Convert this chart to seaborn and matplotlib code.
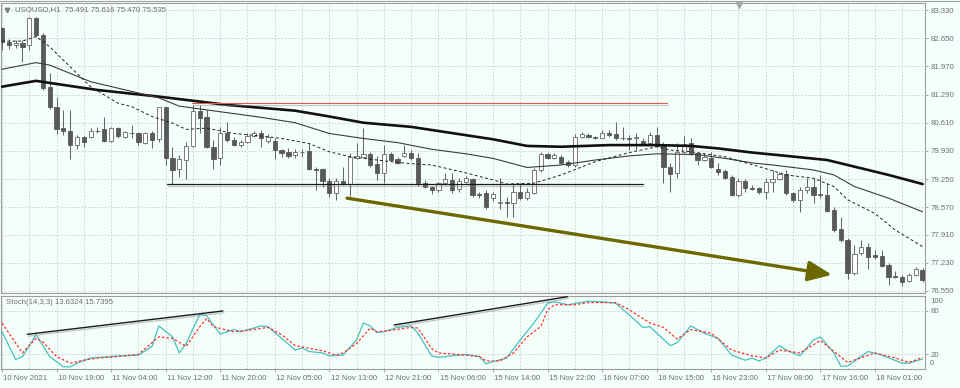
import matplotlib
matplotlib.use("Agg")
import matplotlib.pyplot as plt
import matplotlib.patheffects as pe
from matplotlib.lines import Line2D
from matplotlib.transforms import ScaledTranslation
import numpy as np
import pandas as pd
import seaborn as sns

# ---------------- data ----------------
OPEN = [82.90, 82.56, 82.49, 82.54, 82.49, 83.14, 82.73, 81.46, 81.00, 80.48,
        80.42, 80.07, 80.26, 80.26, 80.42, 80.45, 80.18, 80.48, 80.27, 80.37,
        80.35, 80.13, 80.37, 80.21, 80.98, 79.75, 79.49, 79.71, 80.05, 80.90,
        80.75, 80.03, 79.75, 80.37, 80.20, 80.07, 80.15, 80.29, 80.37, 80.18,
        80.18, 79.95, 79.91, 79.83, 79.91, 79.93, 79.49, 79.49, 79.21, 78.92,
        79.21, 79.13, 79.75, 79.79, 79.85, 79.61, 79.39, 79.85, 79.73, 79.81,
        79.89, 79.75, 79.16, 79.05, 78.99, 79.15, 79.23, 79.00, 79.19, 79.24,
        78.90, 78.91, 78.79, 78.68, 78.70, 78.67, 78.95, 78.79, 78.92, 79.47,
        79.85, 79.75, 79.79, 79.67, 79.59, 80.26, 80.31, 80.27, 80.25, 80.37,
        80.34, 80.24, 80.23, 80.23, 80.18, 80.11, 80.31, 80.07, 79.55, 79.39,
        79.91, 80.11, 79.87, 79.71, 79.75, 79.49, 79.45, 79.29, 78.87, 79.21,
        79.03, 79.03, 78.95, 79.19, 79.24, 79.37, 78.92, 78.75, 78.99, 79.07,
        78.88, 78.87, 78.50, 78.04, 77.78, 76.98, 77.46, 77.62, 77.42, 77.39,
        77.18, 76.90, 76.89, 76.79, 76.94, 77.06]
HIGH = [82.92, 82.62, 82.61, 82.61, 83.15, 83.15, 82.77, 81.80, 81.22, 80.92,
        80.92, 80.31, 80.29, 80.48, 80.51, 80.75, 80.50, 80.51, 80.42, 80.55,
        80.39, 80.39, 80.41, 81.00, 81.00, 80.02, 79.83, 80.15, 81.04, 81.04,
        80.92, 80.19, 80.51, 80.63, 80.26, 80.19, 80.35, 80.42, 80.43, 80.34,
        80.24, 79.97, 79.99, 79.97, 79.97, 80.11, 79.55, 79.51, 79.27, 79.27,
        79.55, 79.87, 80.13, 80.48, 79.91, 79.81, 80.07, 79.91, 79.79, 80.07,
        79.95, 79.87, 79.23, 79.08, 79.19, 79.39, 79.39, 79.27, 79.32, 79.27,
        78.94, 78.99, 78.94, 79.27, 78.82, 79.15, 79.15, 79.03, 79.51, 79.91,
        79.89, 79.89, 79.83, 79.71, 80.34, 80.39, 80.37, 80.30, 80.43, 80.43,
        80.63, 80.50, 80.31, 80.35, 80.23, 80.39, 80.50, 80.15, 79.63, 80.11,
        80.29, 80.23, 79.91, 79.89, 79.91, 79.64, 79.49, 79.35, 79.27, 79.24,
        79.11, 79.07, 79.27, 79.47, 79.43, 79.47, 78.95, 79.07, 79.27, 79.27,
        79.35, 79.15, 78.58, 78.34, 77.82, 77.66, 77.78, 77.70, 77.54, 77.55,
        77.22, 77.04, 76.94, 76.98, 77.12, 77.10]
LOW = [82.36, 82.38, 82.41, 82.08, 82.36, 82.68, 81.40, 80.94, 80.34, 80.31,
       79.73, 79.97, 80.03, 80.23, 80.36, 80.15, 80.15, 80.23, 80.25, 80.24,
       80.07, 80.10, 79.99, 80.15, 79.59, 79.13, 79.31, 79.24, 80.02, 80.37,
       79.99, 79.49, 79.59, 80.15, 80.04, 80.03, 80.13, 80.26, 80.03, 80.13,
       79.73, 79.78, 79.75, 79.75, 79.79, 79.47, 78.99, 79.07, 78.82, 78.75,
       79.11, 78.84, 79.73, 79.75, 79.55, 79.23, 79.16, 79.69, 79.61, 79.79,
       79.71, 79.08, 79.03, 78.89, 78.95, 79.11, 78.92, 78.95, 79.15, 78.81,
       78.79, 78.52, 78.73, 78.52, 78.34, 78.34, 78.75, 78.75, 78.89, 79.43,
       79.73, 79.73, 79.61, 79.55, 79.55, 80.23, 80.23, 80.22, 80.23, 80.26,
       80.19, 80.19, 79.95, 79.95, 80.07, 80.10, 80.03, 79.15, 78.95, 79.27,
       79.87, 79.83, 79.59, 79.69, 79.51, 79.35, 79.24, 78.84, 78.82, 78.93,
       78.99, 78.89, 78.77, 78.95, 79.23, 78.87, 78.70, 78.46, 78.91, 78.67,
       78.79, 78.46, 77.98, 77.74, 76.83, 76.94, 77.42, 77.07, 77.31, 77.12,
       76.69, 76.86, 76.67, 76.77, 76.91, 76.77]
CLOSE = [82.56, 82.49, 82.54, 82.44, 83.13, 82.73, 81.44, 80.98, 80.45, 80.42,
         80.07, 80.27, 80.15, 80.41, 80.41, 80.18, 80.48, 80.29, 80.39, 80.36,
         80.15, 80.36, 80.19, 80.98, 79.75, 79.47, 79.73, 80.05, 80.90, 80.72,
         80.03, 79.73, 80.37, 80.19, 80.07, 80.15, 80.29, 80.37, 80.23, 80.27,
         79.95, 79.89, 79.81, 79.91, 79.90, 79.49, 79.48, 79.21, 78.92, 79.21,
         79.13, 79.79, 79.81, 79.85, 79.59, 79.39, 79.85, 79.71, 79.65, 79.89,
         79.75, 79.15, 79.07, 78.99, 79.16, 79.24, 78.99, 79.21, 79.27, 78.87,
         78.87, 78.58, 78.89, 78.69, 78.67, 78.95, 78.79, 78.95, 79.47, 79.85,
         79.75, 79.82, 79.65, 79.59, 80.27, 80.34, 80.26, 80.23, 80.37, 80.31,
         80.23, 80.23, 80.22, 80.27, 80.10, 80.31, 80.05, 79.55, 79.37, 79.91,
         80.10, 79.87, 79.71, 79.79, 79.53, 79.43, 79.27, 78.87, 79.21, 79.03,
         79.02, 78.95, 79.19, 79.24, 79.37, 78.91, 78.75, 78.99, 79.07, 78.87,
         78.87, 78.49, 78.02, 77.78, 76.98, 77.44, 77.62, 77.38, 77.36, 77.15,
         76.89, 76.89, 76.77, 76.94, 77.07, 76.82]

SLOW_BARS = [0, 5, 7, 14, 23, 30, 33, 43, 48, 53, 60, 68, 72, 77, 82, 89, 96, 101,
             105, 110, 115, 121, 124, 130, 135]
SLOW_MA = [81.48, 81.62, 81.57, 81.40, 81.24, 81.10, 81.04, 80.90, 80.76, 80.61,
           80.51, 80.31, 80.21, 80.05, 80.03, 80.07, 80.07, 80.05, 79.99, 79.89,
           79.81, 79.71, 79.59, 79.35, 79.13]
MID_BARS = [0, 5, 7, 13, 23, 26, 30, 34, 38, 43, 48, 53, 58, 63, 68, 72, 77, 82, 87,
            92, 96, 102, 106, 110, 113, 119, 122, 125, 130, 135]
MID_MA = [81.90, 82.06, 82.00, 81.60, 81.21, 81.01, 80.92, 80.83, 80.74, 80.61,
          80.35, 80.23, 80.13, 79.97, 79.86, 79.75, 79.53, 79.59, 79.71, 79.81,
          79.86, 79.84, 79.75, 79.64, 79.59, 79.47, 79.35, 79.07, 78.79, 78.46]
FAST_BARS = [0, 3, 5, 7, 10, 13, 17, 19, 22, 25, 27, 30, 34, 38, 41, 45, 48, 51, 53,
             58, 61, 63, 68, 72, 74, 78, 82, 87, 92, 96, 98, 101, 106, 111, 115, 119,
             122, 124, 128, 131, 135]
FAST_MA = [82.58, 82.58, 82.69, 82.44, 81.96, 81.48, 81.08, 81.00, 80.76, 80.60,
           80.45, 80.48, 80.35, 80.29, 80.23, 80.11, 79.91, 79.79, 79.75, 79.65,
           79.61, 79.59, 79.40, 79.23, 79.13, 79.15, 79.35, 79.67, 79.89, 80.03,
           79.95, 79.91, 79.79, 79.55, 79.35, 79.27, 79.07, 78.75, 78.42, 78.02,
           77.62]

K_BARS = [0, 2, 3, 5, 7, 9, 10, 11, 13, 16, 17, 20, 22, 23, 25, 26, 27, 29, 30, 32,
          34, 35, 38, 39, 41, 43, 44, 45, 47, 48, 50, 52, 53, 54, 55, 56, 58, 60, 61,
          63, 64, 68, 70, 71, 72, 74, 76, 78, 80, 81, 83, 86, 88, 90, 92, 94, 95, 98,
          99, 101, 103, 105, 107, 109, 110, 111, 112, 114, 115, 117, 119, 120, 122,
          123, 124, 127, 129, 132, 133, 135]
K_VALS = [51, 13, 17, 47, 17, 3, 3, 8, 15, 17, 18, 19, 31, 59, 44, 22, 35, 75, 73,
          48, 54, 51, 59, 58, 42, 26, 29, 24, 22, 18, 19, 40, 63, 59, 50, 51, 57, 59,
          49, 18, 16, 20, 17, 7, 10, 15, 40, 63, 90, 92, 88, 93, 92, 90, 74, 57, 58,
          32, 36, 59, 49, 42, 19, 12, 15, 11, 15, 32, 26, 18, 40, 44, 22, 4, 4, 24,
          19, 8, 8, 13.6324]
D_BARS = [0, 3, 5, 6, 8, 10, 12, 14, 17, 20, 23, 25, 27, 29, 30, 31, 34, 36, 39, 41,
          43, 47, 49, 50, 52, 54, 55, 57, 60, 61, 63, 64, 68, 70, 71, 73, 75, 77, 79,
          80, 81, 84, 86, 90, 92, 95, 97, 99, 101, 104, 107, 110, 112, 114, 117, 120,
          124, 128, 131, 133, 135]
D_VALS = [63, 22, 42, 37, 17, 8, 12, 15, 17, 20, 44, 42, 31, 58, 69, 58, 51, 53, 57,
          47, 32, 25, 19, 22, 35, 56, 51, 53, 57, 56, 28, 22, 19, 17, 11, 11, 22, 44,
          58, 81, 88, 88, 91, 91, 81, 63, 57, 41, 54, 49, 26, 18, 15, 26, 22, 39, 9,
          22, 15, 9, 15.7395]

PRICE_TICKS = ["83.330", "82.650", "81.970", "81.290", "80.610", "79.930",
               "79.250", "78.570", "77.910", "77.230", "76.550"]
TIME_LABELS = ["10 Nov 2021", "10 Nov 19:00", "11 Nov 04:00", "11 Nov 12:00",
               "11 Nov 20:00", "12 Nov 05:00", "12 Nov 13:00", "12 Nov 21:00",
               "15 Nov 06:00", "15 Nov 14:00", "15 Nov 22:00", "16 Nov 07:00",
               "16 Nov 15:00", "16 Nov 23:00", "17 Nov 08:00", "17 Nov 16:00",
               "18 Nov 01:00"]
HEADER = "USOUSD,H1  75.491 75.616 75.470 75.535"
STOCH_HEADER = "Stoch(14,3,3) 13.6324 15.7395"

# drawn objects (bar index, price / value)
RESIST = ([27.9, 97.5], [81.08, 81.08])
SUPPORT = ([24.2, 94.0], [79.12, 79.12])
ARROW = ((50.6, 78.79), (121.7, 76.94))
STOCH_LINE1 = ([3.7, 32.4], [47.5, 79.5])
STOCH_LINE2 = ([57.5, 82.9], [60.3, 99.0])

# ---------------- style ----------------
sns.set_theme(style="white")
plt.rcParams["font.family"] = ["Liberation Sans", "DejaVu Sans"]

BG = "#f5fffa"
TXT = "#6e6e6e"
GRID = "#c6cacd"
SPINE = "#9c9c9c"
W, H = 960, 388

fig = plt.figure(figsize=(9.6, 3.88), dpi=100, facecolor=BG)


def fy(py):
    return 1 - py / H


ax = fig.add_axes([1 / W, fy(293), 924 / W, 290 / H], facecolor=BG)
axs = fig.add_axes([1 / W, fy(369), 924 / W, 73 / H], facecolor=BG, sharex=ax)

df = pd.DataFrame({"open": OPEN, "high": HIGH, "low": LOW, "close": CLOSE})
df["bar"] = np.arange(len(df))
bull = df["close"] >= df["open"]

# candles
ax.vlines(df["bar"], df["low"], df["high"], color="#666666", lw=0.75, zorder=2)
body_lo = np.minimum(df["open"], df["close"])
body_h = np.maximum((df["close"] - df["open"]).abs(), 0.012)
ax.bar(df["bar"][bull], body_h[bull], bottom=body_lo[bull], width=0.62,
       color="white", edgecolor="#666666", linewidth=0.6, zorder=3)
ax.bar(df["bar"][~bull], body_h[~bull], bottom=body_lo[~bull], width=0.62,
       color="#595959", edgecolor="#595959", linewidth=0.6, zorder=3)

# moving averages
sns.lineplot(x=SLOW_BARS, y=SLOW_MA, ax=ax, color="#111111", lw=1.9, zorder=4)
sns.lineplot(x=MID_BARS, y=MID_MA, ax=ax, color="#3c3c3c", lw=0.8, zorder=4)
sns.lineplot(x=FAST_BARS, y=FAST_MA, ax=ax, color="#222222", lw=0.7,
             linestyle=(0, (3, 2.5)), zorder=4)

shadow = [pe.SimpleLineShadow(offset=(0.8, -1.3), shadow_color="#888888", alpha=0.45),
          pe.Normal()]
ax.plot(*RESIST, color="#e05a50", lw=0.8, zorder=5, path_effects=shadow)
ax.plot(*SUPPORT, color="#1a1a1a", lw=0.9, zorder=5, path_effects=shadow)
ax.annotate("", xy=ARROW[1], xytext=ARROW[0],
            arrowprops=dict(arrowstyle="-|>,head_length=1.45,head_width=0.62",
                            color="#6b6800", lw=2.4, mutation_scale=10,
                            shrinkA=0, shrinkB=0), zorder=6)

# axes limits & grid
ax.set_xlim(-0.147, 135.35)
ax.set_ylim(76.501, 83.499)
price_vals = [float(p) for p in PRICE_TICKS]
ax.yaxis.tick_right()
ax.set_yticks(price_vals)
ax.set_yticklabels(PRICE_TICKS)
ax.tick_params(axis="y", right=True, length=2.5, width=0.6, color=SPINE, pad=1.5,
               labelsize=5.6, labelcolor=TXT)
label_bars = list(range(0, len(TIME_LABELS) * 8, 8))
grid_bars = list(range(0, 136, 4))
for a in (ax, axs):
    a.set_xticks(grid_bars, minor=True)
    a.grid(True, which="minor", axis="x", color=GRID, lw=0.6, linestyle=(0, (2, 2)))
    a.grid(True, which="major", axis="x", color=GRID, lw=0.6, linestyle=(0, (2, 2)))
    a.grid(True, which="major", axis="y", color=GRID, lw=0.6, linestyle=(0, (2, 2)))
    a.set_axisbelow(True)
    for s in a.spines.values():
        s.set_color(SPINE)
        s.set_linewidth(0.8)
    a.set_xlabel("")
    a.set_ylabel("")
ax.tick_params(axis="x", which="both", bottom=False, labelbottom=False)

# stochastic
sns.lineplot(x=K_BARS, y=K_VALS, ax=axs, color="#45c2bf", lw=0.9, zorder=3)
sns.lineplot(x=D_BARS, y=D_VALS, ax=axs, color="#ff2d2d", lw=0.9,
             linestyle=(0, (2, 1.6)), zorder=3)
axs.plot(*STOCH_LINE1, color="#1a1a1a", lw=1.0, zorder=5, path_effects=shadow,
         clip_on=False)
axs.plot(*STOCH_LINE2, color="#1a1a1a", lw=1.0, zorder=5, path_effects=shadow,
         clip_on=False)
axs.set_ylim(0, 100)
axs.yaxis.tick_right()
axs.set_yticks([20, 80])
axs.set_yticklabels(["20", "80"])
axs.tick_params(axis="y", right=True, length=2.5, width=0.6, color=SPINE, pad=1.5,
                labelsize=5.6, labelcolor=TXT)
ytr = axs.get_yaxis_transform()
axs.text(1.0 + 5 / 924, 100, "100", transform=ytr + ScaledTranslation(0, -0.057, fig.dpi_scale_trans),
         fontsize=5.6, color=TXT, va="center", ha="left")
axs.text(1.0 + 5 / 924, 0, "0", transform=ytr + ScaledTranslation(0, 0.057, fig.dpi_scale_trans),
         fontsize=5.6, color=TXT, va="center", ha="left")

axs.set_xticks(label_bars)
axs.set_xticklabels(TIME_LABELS)
axs.tick_params(axis="x", which="major", bottom=True, length=2.5, width=0.6,
                color=SPINE, pad=1.5, labelsize=5.6, labelcolor=TXT)
axs.tick_params(axis="x", which="minor", bottom=False)
for lbl in axs.get_xticklabels():
    lbl.set_horizontalalignment("left")
    lbl.set_transform(lbl.get_transform() + ScaledTranslation(0.012, 0, fig.dpi_scale_trans))

# headers
fig.text(15 / W, fy(10), HEADER, fontsize=5.6, color=TXT, va="center", ha="left")
fig.text(6 / W, fy(303), STOCH_HEADER, fontsize=5.6, color=TXT, va="center", ha="left")
fig.add_artist(Line2D([7 / W], [fy(10)], marker="v", ms=3.2, color="#808080", lw=0))
fig.add_artist(Line2D([739 / W], [fy(5)], marker="v", ms=4, color="#a8a8a8", lw=0))
fig.add_artist(Line2D([0, 1], [fy(1.2), fy(1.2)], color="#a0a0a0", lw=0.8))

fig.savefig("out.png", dpi=100, facecolor=BG)
